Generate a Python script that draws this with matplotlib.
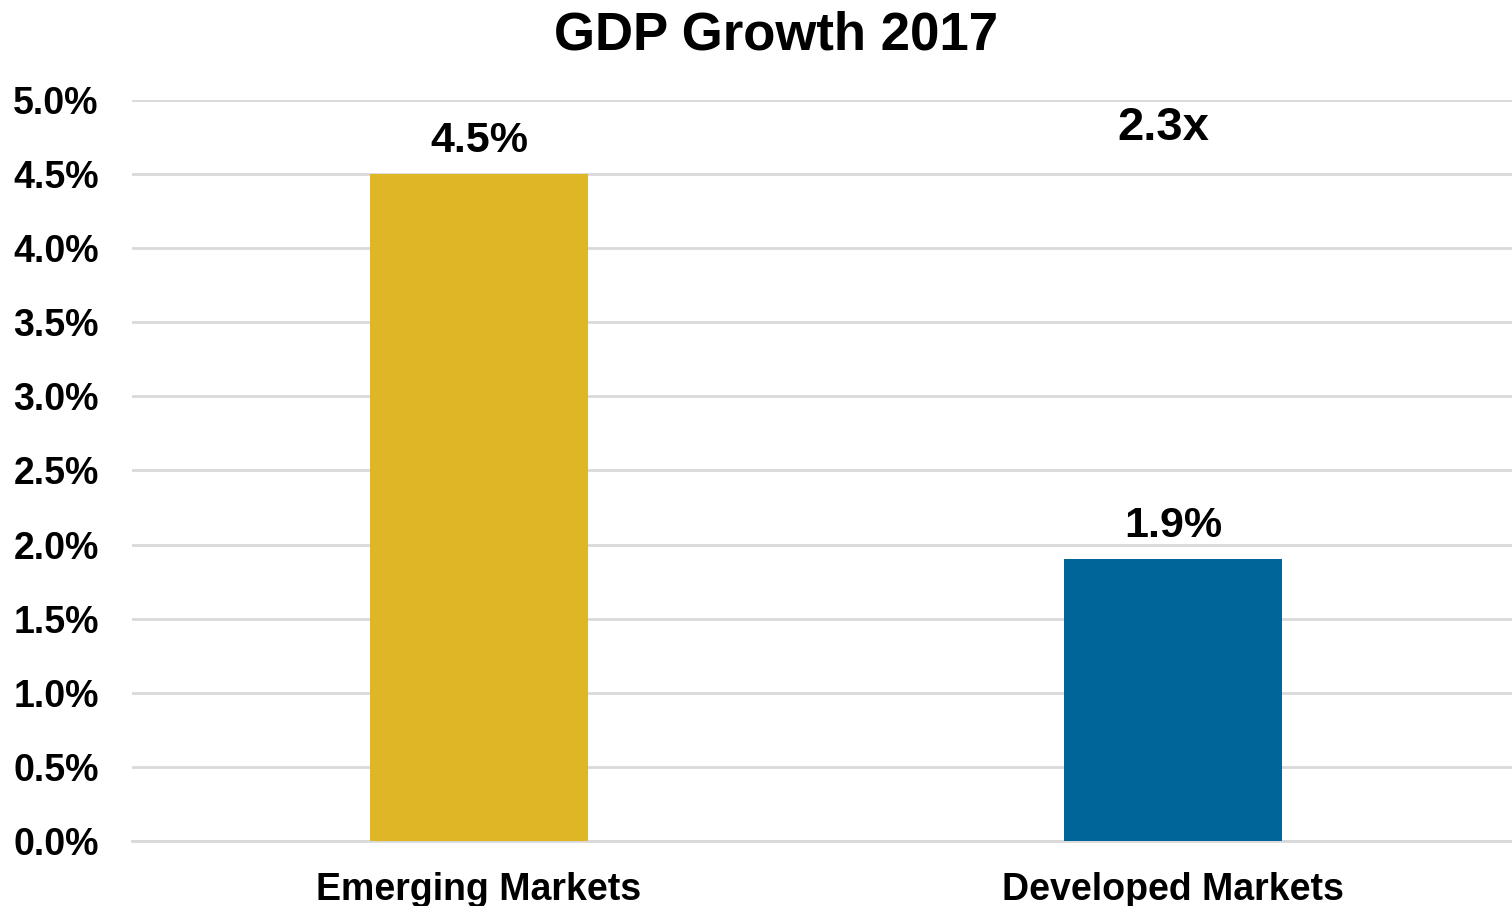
import matplotlib
matplotlib.use("Agg")
import matplotlib.pyplot as plt
from matplotlib.ticker import FuncFormatter, MultipleLocator

categories = ["Emerging Markets", "Developed Markets"]
growth = [4.5, 1.9]
bar_colors = ["#DFB726", "#006699"]
ratio_label = "2.3x"
title = "GDP Growth 2017"

plt.rcParams["font.family"] = ["Liberation Sans", "DejaVu Sans"]
plt.rcParams["font.weight"] = "bold"

fig = plt.figure(figsize=(15.12, 9.06), dpi=100)
ax = fig.add_axes([132 / 1512, 65 / 906, 1380 / 1512, 741 / 906])

x = range(len(categories))
ax.bar(x, growth, width=0.314, color=bar_colors, zorder=3)

for xi, v in zip(x, growth):
    ax.annotate(f"{v:.1f}%", (xi, v), xytext=(0, 9.5), textcoords="offset points",
                ha="center", va="bottom", fontsize=31, fontweight="bold")

ax.text(0.986, 4.81, ratio_label, ha="center", va="center", fontsize=34, fontweight="bold")

ax.set_xlim(-0.5, 1.4885)
ax.set_ylim(0, 5.0)
ax.yaxis.set_major_locator(MultipleLocator(0.5))
ax.yaxis.set_major_formatter(FuncFormatter(lambda v, p: f"{v:.1f}%"))
ax.set_xticks(list(x))
ax.set_xticklabels(categories)
ax.grid(axis="y", color="#D9D9D9", linewidth=2, zorder=0)
ax.set_axisbelow(True)

for s in ["top", "right", "left"]:
    ax.spines[s].set_visible(False)
ax.spines["bottom"].set_color("#D9D9D9")
ax.spines["bottom"].set_linewidth(2)

ax.tick_params(axis="both", length=0)
ax.tick_params(axis="y", pad=24, labelsize=27)
ax.tick_params(axis="x", pad=22.5, labelsize=27)
for lab in ax.get_xticklabels() + ax.get_yticklabels():
    lab.set_fontweight("bold")

fig.text(776 / 1512, 1 - 35 / 906, title, ha="center", va="center",
         fontsize=38, fontweight="bold")

fig.savefig("out.png", dpi=100, facecolor="white")
